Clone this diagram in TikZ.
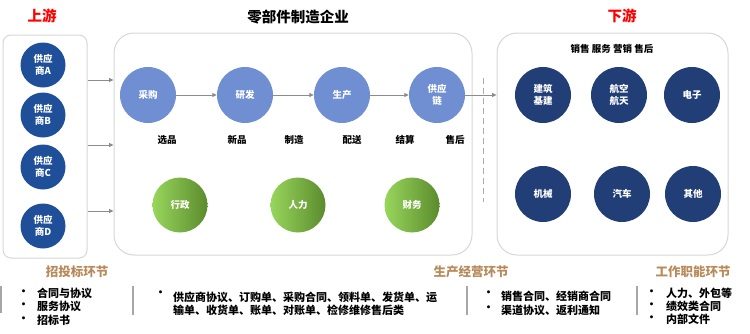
\documentclass[tikz,border=0pt]{standalone}
\usepackage{fontspec}
\setmainfont{Noto Sans CJK SC}
\usetikzlibrary{arrows.meta}
\definecolor{upblue}{HTML}{1F4F99}
\definecolor{procblue}{HTML}{6F8FD2}
\definecolor{navy}{HTML}{213E77}
\definecolor{greenL}{HTML}{98D65C}
\definecolor{greenD}{HTML}{5B8B2D}
\definecolor{stage}{HTML}{B88A5B}
\definecolor{frame}{HTML}{D6D6D6}
\definecolor{wire}{HTML}{8C8C8C}

\begin{document}
\begin{tikzpicture}[x=1pt,y=-1pt,font=\bfseries,
  panel/.style={draw=frame,line width=1pt,rounded corners=#1,inner sep=0},
  disc/.style={circle,inner sep=0,minimum size=#1,text=white,align=center,
    font=\bfseries\fontsize{9.5}{12}\selectfont},
  flow/.style={draw=wire,line width=1pt,-{Triangle[length=4.5pt,width=4pt]}},
  tag/.style={font=\bfseries\fontsize{9.5}{12}\selectfont},
  item/.style={anchor=west,inner sep=0,font=\bfseries\fontsize{11}{13}\selectfont},
  bar/.style={draw=gray!70,line width=1.2pt}]
  \useasboundingbox (0,0) rectangle (750,333);
  % Three panels: suppliers, the enterprise, customers.
  \node[panel=8,minimum width=84,minimum height=223]  (up)   at (45,146.5) {};
  \node[panel=20,minimum width=358,minimum height=222] (mid)  at (293,144) {};
  \node[panel=20,minimum width=231,minimum height=222] (down) at (612.5,144) {};
  % Titles.
  \node[font=\bfseries\fontsize{14.5}{16}\selectfont,text=red] (tup)   at (42,16)  {上游};
  \node[font=\bfseries\fontsize{14.5}{16}\selectfont]          (tmid)  at (298,17) {零部件制造企业};
  \node[font=\bfseries\fontsize{14.5}{16}\selectfont,text=red] (tdown) at (622,16) {下游};
  % Suppliers.
  \node[disc=45,fill=upblue] (sa) at (43,65)  {供应\\商A};
  \node[disc=45,fill=upblue] (sb) at (43,115) {供应\\商B};
  \node[disc=45,fill=upblue] (sc) at (43,167) {供应\\商C};
  \node[disc=45,fill=upblue] (sd) at (43,226) {供应\\商D};
  \draw[flow] (up.east |- 0,80)  -- (mid.west |- 0,80);
  \draw[flow] (up.east |- 0,145) -- (mid.west |- 0,145);
  \draw[flow] (up.east |- 0,211) -- (mid.west |- 0,211);
  % Main process chain.
  \node[disc=56,fill=procblue] (cg)  at (148,95) {采购};
  \node[disc=56,fill=procblue] (yf)  at (245,95) {研发};
  \node[disc=56,fill=procblue] (sc2) at (342,95) {生产};
  \node[disc=56,fill=procblue] (gyl) at (437,95) {供应\\链};
  \draw[flow] (cg) -- (yf);
  \draw[flow] (yf) -- (sc2);
  \draw[flow] (sc2) -- (gyl);
  \draw[flow] (gyl) -- (gyl -| down.west);
  \draw[draw=frame!80!black,line width=1pt,dash pattern=on 6pt off 4pt] (483,78) -- (483,202);
  \node[tag] (l1) at (167,140) {选品};
  \node[tag] (l2) at (237,140) {新品};
  \node[tag] (l3) at (294,140) {制造};
  \node[tag] (l4) at (352,140) {配送};
  \node[tag] (l5) at (405,140) {结算};
  \node[tag] (l6) at (455,140) {售后};
  % Support functions.
  \node[disc=55,left color=greenL,right color=greenD] (xz) at (180,205) {行政};
  \node[disc=55,left color=greenL,right color=greenD] (rl) at (298,205) {人力};
  \node[disc=55,left color=greenL,right color=greenD] (cw) at (412,205) {财务};
  % Customer industries.
  \node[tag] (sales) at (612,49) {销售 服务 营销 售后};
  \node[disc=56,fill=navy] (jz) at (543,95)  {建筑\\基建};
  \node[disc=56,fill=navy] (hk) at (619,95)  {航空\\航天};
  \node[disc=56,fill=navy] (dz) at (692,95)  {电子};
  \node[disc=56,fill=navy] (jx) at (543,194) {机械};
  \node[disc=56,fill=navy] (qc) at (622,194) {汽车};
  \node[disc=56,fill=navy] (qt) at (693,194) {其他};
  % Document stages.
  \node[font=\bfseries\fontsize{12.5}{14}\selectfont,text=stage] (s1) at (77,272)  {招投标环节};
  \node[font=\bfseries\fontsize{12.5}{14}\selectfont,text=stage] (s2) at (471,272) {生产经营环节};
  \node[font=\bfseries\fontsize{12.5}{14}\selectfont,text=stage] (s3) at (693,272) {工作职能环节};
  \draw[bar] (1,286) -- (1,313);
  \draw[bar] (133,286) -- (133,315);
  \draw[bar] (467,286) -- (467,315);
  \draw[bar] (637,286) -- (637,315);
  \node[item] (b1) at (18,293) {•};  \node[item] (t1) at (37,293) {合同与协议};
  \node[item] (b2) at (18,306) {•};  \node[item] (t2) at (37,306) {服务协议};
  \node[item] (b3) at (18,320) {•};  \node[item] (t3) at (37,320) {招标书};
  \node[item] (b4) at (155,294) {•};
  \node[item] (t4) at (173,297) {供应商协议、订购单、采购合同、领料单、发货单、运};
  \node[item] (t5) at (173,310) {输单、收货单、账单、对账单、检修维修售后类};
  \node[item] (b6) at (483,294) {•};  \node[item] (t6) at (501,296) {销售合同、经销商合同};
  \node[item] (b7) at (483,309) {•};  \node[item] (t7) at (501,310) {渠道协议、返利通知};
  \node[item] (b8) at (646,293) {•};  \node[item] (t8) at (666,293) {人力、外包等};
  \node[item] (b9) at (646,306) {•};  \node[item] (t9) at (666,306) {绩效类合同};
  \node[item] (b10) at (646,319) {•}; \node[item] (t10) at (666,319) {内部文件};
\end{tikzpicture}
\end{document}
